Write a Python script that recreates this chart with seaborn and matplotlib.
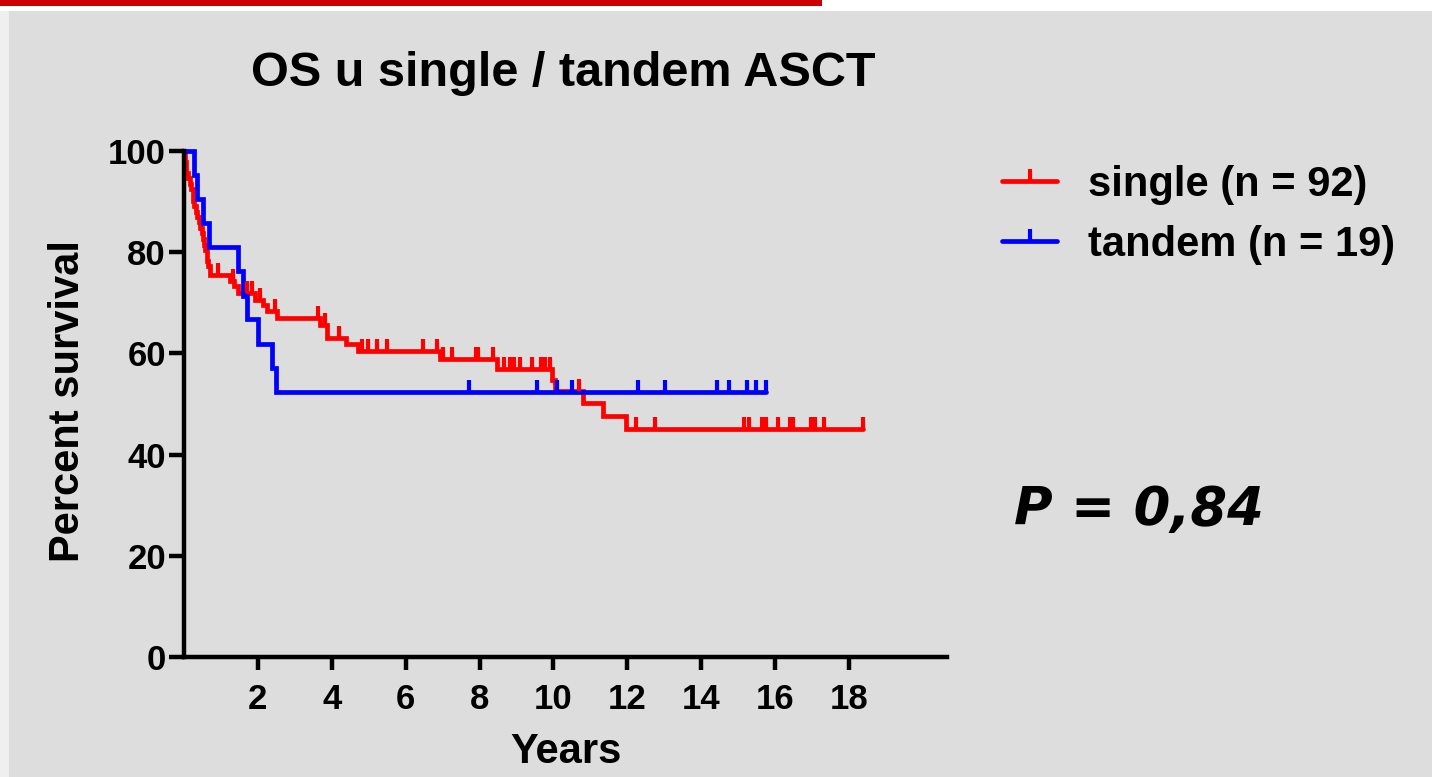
import numpy as np
import pandas as pd
import matplotlib
matplotlib.use('Agg')
import matplotlib.pyplot as plt
from matplotlib.path import Path
from matplotlib.lines import Line2D
from matplotlib.patches import Rectangle
import seaborn as sns

# Kaplan-Meier steps (years, percent survival after each event)
single_event_times = [0.02, 0.05, 0.10, 0.15, 0.20, 0.24, 0.28, 0.32, 0.36, 0.40, 0.44,
                      0.48, 0.52, 0.55, 0.58, 0.61, 0.63, 0.66, 0.70, 1.25, 1.35, 1.46,
                      1.92, 2.14, 2.25, 2.52, 3.69, 3.88, 4.39, 4.72, 6.94, 8.48, 9.96,
                      10.05, 10.80, 11.35, 11.95]
single_levels = [97.8, 95.7, 94.6, 93.5, 92.4, 90.2, 89.1, 88.0, 87.0, 85.9, 84.8,
                 83.7, 82.6, 81.5, 80.4, 79.3, 78.3, 77.2, 75.5, 74.4, 73.3, 72.0,
                 70.6, 69.5, 68.3, 67.0, 65.7, 63.0, 61.8, 60.4, 58.9, 56.9, 54.8,
                 52.6, 50.2, 47.6, 45.1]
single_censor = [0.92, 1.32, 1.70, 1.84, 2.06, 2.47, 3.63, 3.82, 4.20, 4.83, 4.99, 5.23,
                 5.50, 6.47, 6.86, 7.02, 7.26, 7.89, 7.95, 8.37, 8.65, 8.83, 8.92, 9.10,
                 9.43, 9.65, 9.76, 9.90, 10.68, 12.22, 12.74, 15.15, 15.28, 15.63, 15.74,
                 16.07, 16.40, 16.49, 16.98, 17.08, 17.32, 18.37]

tandem_event_times = [0.27, 0.35, 0.52, 0.68, 1.46, 1.60, 1.70, 2.00, 2.38, 2.50]
tandem_levels = [95.2, 90.5, 85.7, 81.0, 76.2, 71.4, 66.7, 61.9, 57.1, 52.4]
tandem_censor = [7.70, 9.55, 10.10, 10.50, 12.30, 13.02, 14.42, 14.74, 15.25, 15.49, 15.75]

labels = ['single (n = 92)', 'tandem (n = 19)']
colors = ['#ff0000', '#0000ff']
x_ticks = [2, 4, 6, 8, 10, 12, 14, 16, 18]
y_ticks = [0, 20, 40, 60, 80, 100]


def km_frame(event_times, levels, censor):
    end = max(censor[-1], event_times[-1])
    t = [0.0] + list(event_times) + [end]
    s = [100.0] + list(levels) + [levels[-1]]
    curve = pd.DataFrame({'t': t, 's': s})
    idx = np.searchsorted(t, censor, side='right') - 1
    marks = pd.DataFrame({'t': censor, 's': np.array(s)[idx]})
    return curve, marks


sns.set_style("ticks")
plt.rcParams['font.family'] = ['Liberation Sans', 'DejaVu Sans']
plt.rcParams['font.weight'] = 'bold'
plt.rcParams['text.color'] = 'black'

W, H = 1432, 777
fig = plt.figure(figsize=(W / 100, H / 100), dpi=100, facecolor='white')

# slide background
fig.patches.append(Rectangle((9 / W, 0), 1 - 9 / W, 1 - 11 / H, transform=fig.transFigure,
                             facecolor='#dddddd', edgecolor='none', zorder=-3))
fig.patches.append(Rectangle((0, 0), 9 / W, 1 - 11 / H, transform=fig.transFigure,
                             facecolor='#efefef', edgecolor='none', zorder=-3))
fig.patches.append(Rectangle((0, 1 - 6 / H), 822 / W, 6 / H, transform=fig.transFigure,
                             facecolor='#cc0000', edgecolor='none', zorder=-3))

ax = fig.add_axes([184 / W, 1 - 657 / H, (947 - 184) / W, (657 - 151) / H])
ax.set_facecolor('none')

tick_marker = Path([(0, 0), (0, 1)])

frames = [km_frame(single_event_times, single_levels, single_censor),
          km_frame(tandem_event_times, tandem_levels, tandem_censor)]
for (curve, marks), col in zip(frames, colors):
    sns.lineplot(data=curve, x='t', y='s', drawstyle='steps-post', color=col, lw=3.4,
                 solid_joinstyle='miter', clip_on=False, ax=ax)
    sns.scatterplot(data=marks, x='t', y='s', marker=tick_marker, s=300, color=col,
                    edgecolor=col, linewidth=3, clip_on=False, zorder=3, ax=ax)

ax.set_xlim(0, 20.65)
ax.set_ylim(0, 100)
ax.set_xticks(x_ticks)
ax.set_yticks(y_ticks)
ax.set_xlabel('')
ax.set_ylabel('')
for side in ['top', 'right']:
    ax.spines[side].set_visible(False)
for side in ['left', 'bottom']:
    ax.spines[side].set_linewidth(3.2)
    ax.spines[side].set_color('black')
ax.tick_params(axis='y', length=11, width=3.2, pad=2, labelsize=25, colors='black')
ax.tick_params(axis='x', length=9, width=3.2, pad=10, labelsize=25, colors='black')
for lab in ax.get_xticklabels() + ax.get_yticklabels():
    lab.set_fontweight('bold')

fig.text(563 / W, 1 - 74 / H, 'OS u single / tandem ASCT', ha='center', va='center',
         fontsize=35, fontweight='bold')
fig.text(68 / W, 1 - 401 / H, 'Percent survival', ha='center', va='center', rotation=90,
         fontsize=30, fontweight='bold')
fig.text(566 / W, 1 - 752 / H, 'Years', ha='center', va='center',
         fontsize=30, fontweight='bold')
fig.text(1139 / W, 1 - 510 / H, 'P = 0,84', ha='center', va='center', fontsize=38,
         fontweight='bold', fontstyle='italic', family=['DejaVu Sans'])

handles = [Line2D([0], [0], color=c, lw=3.4, marker=tick_marker, markersize=17,
                  markeredgewidth=3, markeredgecolor=c) for c in colors]
fig.legend(handles, labels, loc='upper left', bbox_to_anchor=(1002 / W, 1 - 165 / H),
           frameon=False, handlelength=1.32, handletextpad=0.74,
           labelspacing=0.47, borderpad=0, borderaxespad=0,
           prop={'weight': 'bold', 'size': 30})

fig.savefig('out.png', dpi=100, facecolor=fig.get_facecolor())
